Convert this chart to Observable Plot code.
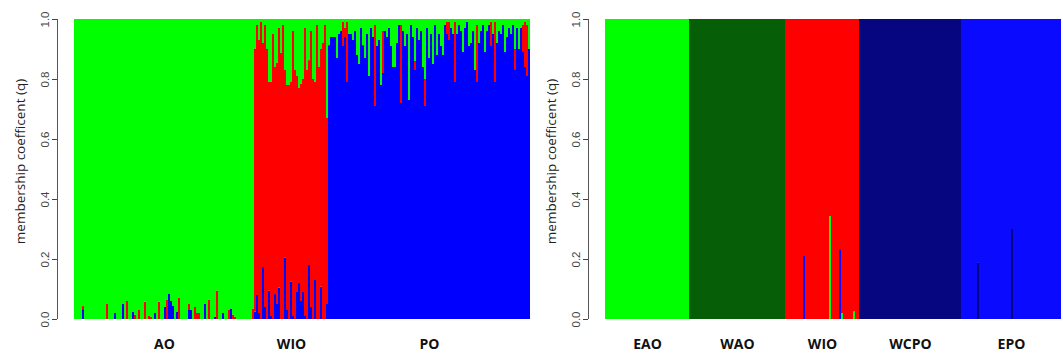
<!DOCTYPE html>
<html><head><meta charset="utf-8">
<script src="https://cdn.jsdelivr.net/npm/d3@7"></script>
<script src="https://cdn.jsdelivr.net/npm/@observablehq/plot@0.6"></script>
<style>
body{margin:0;background:#fff;}
#wrap{display:flex;width:1063px;height:356px;overflow:hidden;}
#wrap svg{overflow:visible;display:block;}
</style></head><body><div id="wrap"></div>
<script>
// ---- shared ----
const yTicks = [0, 0.2, 0.4, 0.6, 0.8, 1.0];
const yLabel = "membership coefficent (q)";

// ---- left panel (K = 3) ----
const leftGroups = ["AO", "WIO", "PO"];
const leftCounts = [90, 37, 101];
const leftClusters = ["K1", "K2", "K3"];                  // bottom -> top: blue, red, green
const leftColors = ["#0000ff", "#ff0000", "#00ff00"];

const aoBlue = [
  0,0,0,0,.03,0,0,0,0,0,
  0,0,0,0,0,0,0,0,0,0,
  .02,0,0,0,.05,0,0,0,0,.025,
  0,0,0,0,0,0,0,0,0,0,
  .02,0,0,0,0,.04,0,.085,.06,.045,
  0,.025,0,0,0,0,0,.03,.03,0,
  0,0,0,0,0,.05,0,0,0,0,
  .007,0,0,0,.02,0,0,0,.035,0,
  0,0,0,0,0,0,0,0,0,0];
const aoRed = [
  0,0,0,0,.013,0,0,0,0,0,
  0,0,0,0,0,0,.05,0,0,0,
  0,0,0,0,0,0,.06,0,0,0,
  .015,0,.03,0,0,.058,0,.012,.008,0,
  0,0,.058,0,0,0,.065,0,0,0,
  0,0,.07,0,0,0,0,.02,0,0,
  .04,.02,.02,0,0,0,0,.065,0,0,
  0,.095,0,0,0,0,0,.03,0,.015,
  .008,0,0,0,0,0,0,0,0,.035];

const wioBlue = [
  .025,.08,.02,0,.173,.04,0,.094,.01,0,
  .083,.05,.105,0,0,.204,.03,0,.124,.01,
  0,.09,.12,.06,.09,.01,0,.18,.04,0,
  .13,0,0,.108,0,0,.05];
const wioGreen = [
  .098,.02,.07,.01,.08,.02,.1,.21,.21,.05,
  .16,.145,.03,.113,.02,.17,.22,.22,.21,.04,
  .17,.19,.23,.215,.2,.03,.17,.137,.04,.2,
  .21,.02,.16,.1,.08,.02,.33];

const poRed = [
  0,0,0,0,0,0,0,.08,.03,.2,
  0,0,0,0,0,0,0,0,0,0,
  0,0,0,.27,0,0,0,.14,0,0,
  0,0,0,0,0,0,.26,0,0,0,
  0,0,0,.03,0,0,0,0,.09,0,
  0,0,0,0,0,0,0,0,0,.04,
  .06,0,0,.2,0,0,0,0,0,0,
  0,0,0,0,.19,0,0,0,0,0,
  0,.08,0,.2,0,0,0,0,0,0,
  0,0,0,.07,0,0,0,.09,.15,.17,
  0];
const poGreen = [
  .087,.06,.06,.06,.13,.05,.04,.01,.03,.01,
  .05,.05,.07,.04,.12,.15,.03,.087,.13,.05,
  .19,.03,.06,.02,.09,.07,.22,.04,.04,.06,
  .03,.09,.16,.16,.08,.02,.02,.04,.09,.05,
  .27,.02,.06,.14,.03,.07,.04,.16,.2,.03,
  .13,.05,.15,.02,.12,.05,.09,.12,.02,.01,
  .01,.03,.05,.01,.05,.02,.04,.11,.03,.01,
  .09,.08,.04,.17,.02,.08,.04,.02,.11,.04,
  .02,.01,.05,.01,.08,.04,.05,.02,.11,.06,
  .03,.05,.02,.1,.03,.1,.03,.02,.01,.02,
  .1];

// ---- right panel (K = 5) ----
const rightGroups = ["EAO", "WAO", "WIO", "WCPO", "EPO"];
const rightCounts = [42, 48, 37, 51, 50];
const rightClusters = ["EAO", "WAO", "WIO", "WCPO", "EPO"];
const rightColors = ["#00ff00", "#065f06", "#ff0000", "#060680", "#0a0aff"];

const wio2Blue = [
  0,0,0,0,0,0,0,0,0,.21,
  0,0,0,0,0,0,0,0,0,0,
  0,0,0,0,0,0,0,.233,0,0,
  0,0,0,0,0,0,0];
const wio2Green = [
  0,0,0,0,0,0,0,0,0,0,
  0,0,0,0,0,0,0,0,0,0,
  0,0,.343,0,0,0,0,0,.02,0,
  0,0,0,0,.025,0,0];
const epo2Navy = [
  0,0,0,0,0,0,0,0,.187,0,
  0,0,0,0,0,0,0,0,0,0,
  0,0,0,0,0,.30,0,0,0,0,
  0,0,0,0,0,0,0,0,0,0,
  0,0,0,0,0,0,0,0,0,0];

// ---- build tables ----
function starts(counts) { const s = []; let a = 0; for (const c of counts) { s.push(a); a += c; } return s; }

const leftRows = [];
{
  const st = starts(leftCounts);
  const [B, R, G] = leftClusters;
  aoBlue.forEach((b, j) => { const r = aoRed[j], i = st[0] + j;
    leftRows.push({i, k: B, q: b}, {i, k: R, q: r}, {i, k: G, q: 1 - b - r}); });
  wioBlue.forEach((b, j) => { const g = wioGreen[j], i = st[1] + j;
    leftRows.push({i, k: B, q: b}, {i, k: R, q: 1 - b - g}, {i, k: G, q: g}); });
  poRed.forEach((r, j) => { const g = poGreen[j], i = st[2] + j;
    leftRows.push({i, k: B, q: 1 - r - g}, {i, k: R, q: r}, {i, k: G, q: g}); });
}

const rightRows = [];
{
  const st = starts(rightCounts);
  rightGroups.forEach((gname, gi) => {
    for (let j = 0; j < rightCounts[gi]; j++) {
      const i = st[gi] + j;
      let minor = [];
      if (gname === "WIO") minor = [{k: "EPO", q: wio2Blue[j]}, {k: "EAO", q: wio2Green[j]}];
      if (gname === "EPO") minor = [{k: "WCPO", q: epo2Navy[j]}];
      let rest = 1;
      for (const m of minor) { rightRows.push({i, k: m.k, q: m.q}); rest -= m.q; }
      rightRows.push({i, k: rightClusters[gi], q: rest});
    }
  });
}

function panel(rows, groups, counts, clusters, colors, width, marginLeft, marginRight) {
  const n = d3.sum(counts);
  const st = starts(counts);
  const labels = groups.map((name, gi) => ({name, c: st[gi] + counts[gi] / 2}));
  return Plot.plot({
    width, height: 356,
    marginLeft, marginRight, marginTop: 19, marginBottom: 37,
    style: {fontFamily: "'Liberation Sans', Arial, sans-serif", background: "#fff", overflow: "visible"},
    x: {domain: [0, n], axis: null},
    y: {domain: [0, 1]},
    color: {type: "ordinal", domain: clusters, range: colors},
    marks: [
      Plot.rectY(rows.filter(d => d.q > 0), {x1: "i", x2: d => d.i + 1, y: "q", fill: "k"}),
      Plot.ruleX([0], {y1: 0, y2: 1, dx: -17, stroke: "#555", strokeWidth: 1}),
      Plot.axisY(yTicks, {tickSize: 5, dx: -17, tickRotate: -90, tickPadding: 4,
        tickFormat: d3.format(".1f"), fontSize: 11.5, color: "#444", label: null}),
      Plot.text([yLabel], {frameAnchor: "left", textAnchor: "middle", lineAnchor: "middle",
        rotate: -90, dx: -54, dy: -8,
        fontSize: 13.5, fontFamily: "'Open Sans', sans-serif", fill: "#222"}),
      Plot.text(labels, {x: "c", text: "name", frameAnchor: "bottom", dy: 29,
        fontWeight: "bold", fontSize: 14, fontFamily: "'Open Sans', sans-serif", fill: "#111"})
    ]
  });
}

const wrap = document.getElementById("wrap");
wrap.append(panel(leftRows, leftGroups, leftCounts, leftClusters, leftColors, 530, 74, 0));
wrap.append(panel(rightRows, rightGroups, rightCounts, rightClusters, rightColors, 533, 75, 2));
</script></body></html>
